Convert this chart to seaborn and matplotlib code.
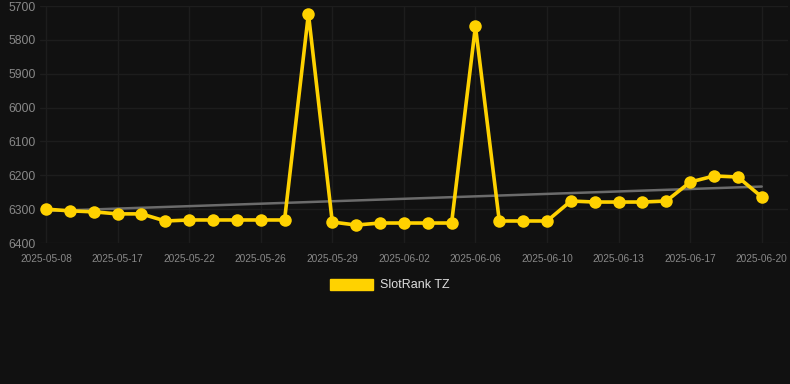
import numpy as np
import pandas as pd
import matplotlib
matplotlib.use("Agg")
import matplotlib.pyplot as plt
from matplotlib.patches import Patch
import seaborn as sns

dates = ["2025-05-08", "2025-05-11", "2025-05-14", "2025-05-17", "2025-05-19", "2025-05-20",
         "2025-05-22", "2025-05-23", "2025-05-25", "2025-05-26", "2025-05-27", "2025-05-28",
         "2025-05-29", "2025-05-30", "2025-06-01", "2025-06-02", "2025-06-03", "2025-06-05",
         "2025-06-06", "2025-06-07", "2025-06-09", "2025-06-10", "2025-06-11", "2025-06-12",
         "2025-06-13", "2025-06-14", "2025-06-16", "2025-06-17", "2025-06-18", "2025-06-19",
         "2025-06-20"]
ranks = [6300, 6305, 6308, 6314, 6314, 6335, 6332, 6332, 6332, 6332, 6332, 5723,
         6338, 6347, 6341, 6341, 6341, 6341, 5760, 6335, 6335, 6335, 6276, 6279,
         6279, 6279, 6276, 6220, 6202, 6205, 6264]
series_name = "SlotRank TZ"
y_ticks = [5700, 5800, 5900, 6000, 6100, 6200, 6300, 6400]

df = pd.DataFrame({"idx": np.arange(len(dates)), "date": dates, "rank": ranks})

sns.set_theme(style="dark")
plt.rcParams["font.family"] = ["Liberation Sans", "DejaVu Sans"]

bg = "#111111"
gold = "#FFD200"
fig = plt.figure(figsize=(7.9, 3.84), dpi=100, facecolor=bg)
ax = fig.add_axes([40 / 790, 1 - 243 / 384, 748 / 790, 237 / 384])
ax.set_facecolor(bg)

sns.regplot(data=df, x="idx", y="rank", scatter=False, ci=None, ax=ax,
            line_kws=dict(color="#6b6b6b", lw=1.8, zorder=2))
sns.lineplot(data=df, x="idx", y="rank", ax=ax, color=gold, lw=2.6,
             marker="o", markersize=9, markeredgewidth=0, zorder=3)

ax.set_ylim(6400, 5700)
ax.set_yticks(y_ticks)
ax.set_yticklabels([str(v) for v in y_ticks])
ax.set_xlim(-0.25, 31.1)
tick_idx = list(range(0, len(dates), 3))
ax.set_xticks(tick_idx)
ax.set_xticklabels([dates[i] for i in tick_idx])

ax.grid(True, color="#1d1d1d", lw=1)
ax.set_axisbelow(True)
for s in ax.spines.values():
    s.set_visible(False)
ax.tick_params(axis="y", colors="#888888", labelsize=8.7, length=0, pad=3)
ax.tick_params(axis="x", colors="#888888", labelsize=7.3, length=0, pad=8)
ax.set_xlabel("")
ax.set_ylabel("")

fig.legend(handles=[Patch(facecolor=gold, edgecolor=gold)], labels=[series_name],
           loc="center", bbox_to_anchor=(390 / 790, 1 - 285 / 384), frameon=False,
           fontsize=9, labelcolor="#dddddd", handlelength=3.4, handleheight=1.0,
           handletextpad=0.6)

fig.savefig("out.png", dpi=100, facecolor=bg)
